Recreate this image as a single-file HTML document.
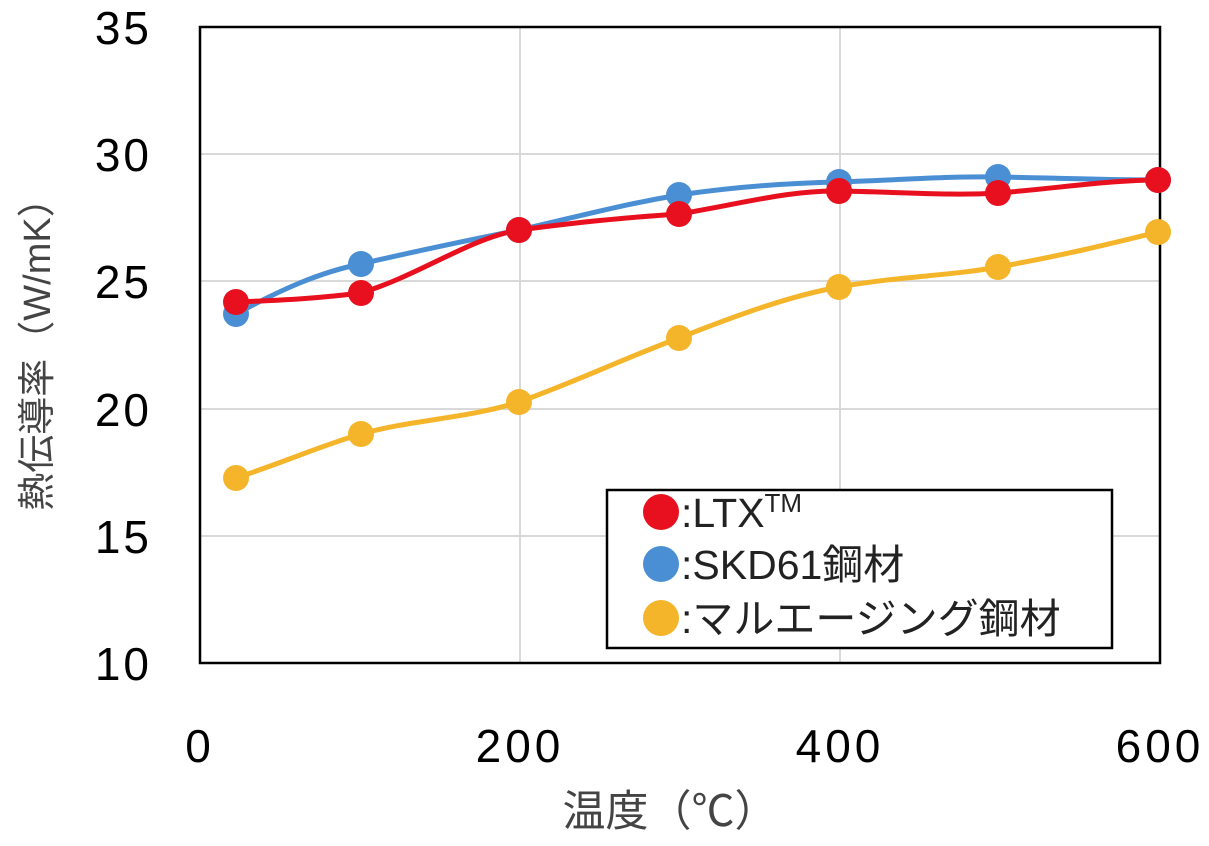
<!DOCTYPE html>
<html><head><meta charset="utf-8"><style>
html,body{margin:0;padding:0;background:#fff;}
svg{display:block;}
text{font-family:"Liberation Sans","Noto Sans CJK JP",sans-serif;}
</style></head><body>
<svg width="1209" height="846" viewBox="0 0 1209 846" xmlns="http://www.w3.org/2000/svg">
<g stroke="#d9d9d9" stroke-width="2">
<line x1="520" y1="27" x2="520" y2="663"/>
<line x1="840" y1="27" x2="840" y2="663"/>
<line x1="200" y1="536" x2="1160" y2="536"/>
<line x1="200" y1="409" x2="1160" y2="409"/>
<line x1="200" y1="281" x2="1160" y2="281"/>
<line x1="200" y1="154" x2="1160" y2="154"/>
</g>
<rect x="200" y="27" width="960" height="636" fill="none" stroke="#000" stroke-width="2.5"/>
<g font-size="46" fill="#000" text-anchor="end" letter-spacing="3">
<text x="152" y="44">35</text>
<text x="152" y="171">30</text>
<text x="152" y="298">25</text>
<text x="152" y="426">20</text>
<text x="152" y="553">15</text>
<text x="152" y="680">10</text>
</g>
<g font-size="46" fill="#000" text-anchor="middle" letter-spacing="4">
<text x="200" y="762">0</text>
<text x="520" y="762">200</text>
<text x="840" y="762">400</text>
<text x="1160" y="762">600</text>
</g>
<text x="670" y="826" font-size="43" fill="#444" text-anchor="middle">温度（℃）</text>
<text transform="translate(50,345) rotate(-90)" font-size="38" fill="#444" text-anchor="middle">熱伝導率（W/mK）</text>
<g fill="none" stroke-width="5" stroke-linejoin="round" stroke-linecap="round">
<path stroke="#f5b52a" d="M236,478 C290,460 320,446 361,434 C410,420 470,418 519,402 C580,380 620,360 679,338 C740,314 790,296 839,287 C900,276 950,276 998,267 C1060,256 1110,244 1158,232"/>
<path stroke="#4a8fd4" d="M236,314 C280,290 320,272 361,264 C420,250 470,240 519,230 C580,216 620,205 679,195 C740,186 790,183 839,182 C900,180 950,176 998,177 C1060,178 1110,180 1158,180"/>
<path stroke="#e8101e" d="M236,302 C290,300 320,298 361,293 C420,275 470,238 519,230 C580,222 620,218 679,214 C740,204 790,190 839,191 C900,192 950,196 998,193 C1060,188 1110,180 1158,180"/>
</g>
<g fill="#f5b52a"><circle cx="236" cy="478" r="13"/><circle cx="361" cy="434" r="13"/><circle cx="519" cy="402" r="13"/><circle cx="679" cy="338" r="13"/><circle cx="839" cy="287" r="13"/><circle cx="998" cy="267" r="13"/><circle cx="1158" cy="232" r="13"/></g>
<g fill="#4a8fd4"><circle cx="236" cy="314" r="13"/><circle cx="361" cy="264" r="13"/><circle cx="519" cy="230" r="13"/><circle cx="679" cy="195" r="13"/><circle cx="839" cy="182" r="13"/><circle cx="998" cy="177" r="13"/><circle cx="1158" cy="180" r="13"/></g>
<g fill="#e8101e"><circle cx="236" cy="302" r="13"/><circle cx="361" cy="293" r="13"/><circle cx="519" cy="230" r="13"/><circle cx="679" cy="214" r="13"/><circle cx="839" cy="191" r="13"/><circle cx="998" cy="193" r="13"/><circle cx="1158" cy="180" r="13"/></g>
<rect x="607" y="490" width="505" height="158" fill="#fff" stroke="#000" stroke-width="2.5"/>
<circle cx="661" cy="512" r="18" fill="#e8101e"/>
<circle cx="661" cy="564" r="18" fill="#4a8fd4"/>
<circle cx="661" cy="618" r="18" fill="#f5b52a"/>
<g font-size="41" fill="#222">
<text x="681" y="527">:LTX<tspan font-size="26" dy="-15">TM</tspan></text>
<text x="681" y="579">:SKD61鋼材</text>
<text x="681" y="633">:マルエージング鋼材</text>
</g>
</svg>
</body></html>
